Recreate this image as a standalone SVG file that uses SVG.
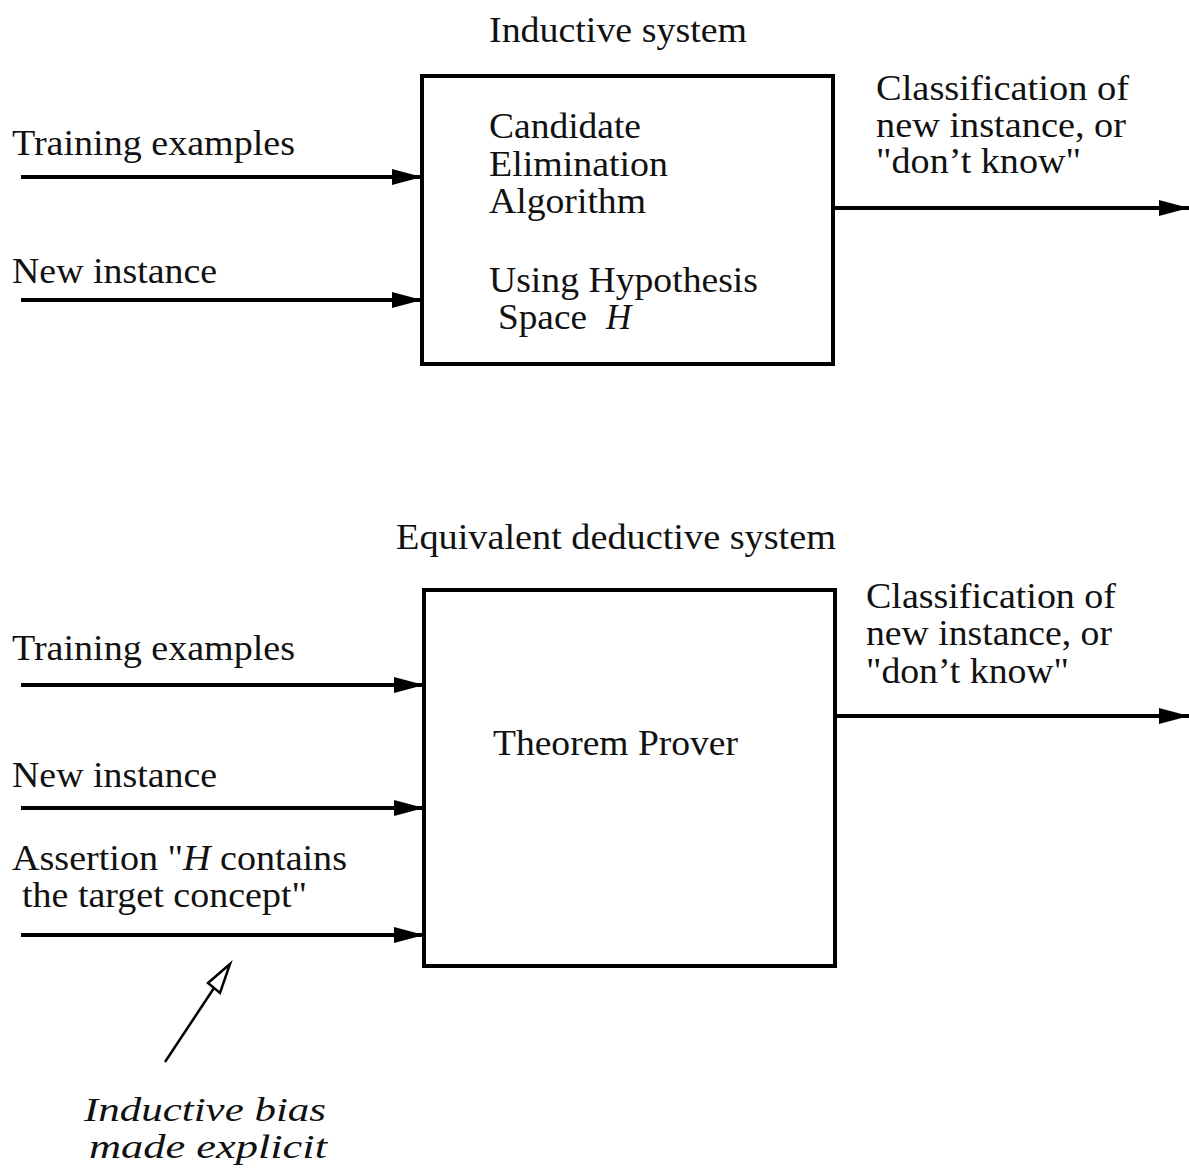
<svg xmlns="http://www.w3.org/2000/svg" width="1189" height="1174" viewBox="0 0 1189 1174">
<defs>
<style>
text{font-family:"Liberation Serif","Times New Roman",serif;font-size:35px;fill:#111}
.it{font-style:italic}
.big{font-size:34px}
.box{fill:#fff;stroke:#000;stroke-width:4}
.arr{stroke:#000;stroke-width:4;fill:none}
.thin{stroke:#000;stroke-width:2.5;fill:none}
</style>
<marker id="ah" viewBox="0 0 30 16" refX="30" refY="8" markerWidth="30" markerHeight="16" markerUnits="userSpaceOnUse" orient="auto">
<path d="M0,0 L30,8 L0,16 z" fill="#000"/>
</marker>
</defs>
<rect width="1189" height="1174" fill="#fff"/>

<g id="inductive-system">
<text x="489" y="42" textLength="258" lengthAdjust="spacingAndGlyphs">Inductive system</text>
<rect class="box" x="422" y="76" width="411" height="288"/>
<text x="489" y="138" textLength="152" lengthAdjust="spacingAndGlyphs">Candidate</text>
<text x="489" y="176" textLength="179" lengthAdjust="spacingAndGlyphs">Elimination</text>
<text x="489" y="213" textLength="157" lengthAdjust="spacingAndGlyphs">Algorithm</text>
<text x="489" y="292" textLength="269" lengthAdjust="spacingAndGlyphs">Using Hypothesis</text>
<text x="498" y="329" textLength="89" lengthAdjust="spacingAndGlyphs">Space</text>
<text x="606" y="329" class="it">H</text>
</g>

<g id="inductive-labels">
<text x="12" y="155" textLength="283" lengthAdjust="spacingAndGlyphs">Training examples</text>
<text x="12" y="283" textLength="205" lengthAdjust="spacingAndGlyphs">New instance</text>
<text x="876" y="100" textLength="253" lengthAdjust="spacingAndGlyphs">Classification of</text>
<text x="876" y="137" textLength="250" lengthAdjust="spacingAndGlyphs">new instance, or</text>
<text x="876" y="173" textLength="205" lengthAdjust="spacingAndGlyphs">"don’t know"</text>
</g>

<g id="deductive-system">
<text x="396" y="549" textLength="440" lengthAdjust="spacingAndGlyphs">Equivalent deductive system</text>
<rect class="box" x="424" y="590" width="411" height="376"/>
<text x="493" y="755" textLength="245" lengthAdjust="spacingAndGlyphs">Theorem Prover</text>
</g>

<g id="deductive-labels">
<text x="12" y="660" textLength="283" lengthAdjust="spacingAndGlyphs">Training examples</text>
<text x="12" y="787" textLength="205" lengthAdjust="spacingAndGlyphs">New instance</text>
<text x="12" y="870" textLength="335" lengthAdjust="spacingAndGlyphs">Assertion "<tspan class="it">H</tspan> contains</text>
<text x="22" y="907" textLength="285" lengthAdjust="spacingAndGlyphs">the target concept"</text>
<text x="866" y="608" textLength="250" lengthAdjust="spacingAndGlyphs">Classification of</text>
<text x="866" y="645" textLength="246" lengthAdjust="spacingAndGlyphs">new instance, or</text>
<text x="866" y="683" textLength="203" lengthAdjust="spacingAndGlyphs">"don’t know"</text>
</g>

<g id="bias-note">
<text x="84" y="1121" class="it big" textLength="242" lengthAdjust="spacingAndGlyphs">Inductive bias</text>
<text x="89" y="1158" class="it big" textLength="238" lengthAdjust="spacingAndGlyphs">made explicit</text>
</g>

<g id="connectors">
<line class="arr" x1="21" y1="177" x2="422" y2="177" marker-end="url(#ah)"/>
<line class="arr" x1="21" y1="300" x2="422" y2="300" marker-end="url(#ah)"/>
<line class="arr" x1="833" y1="208" x2="1189" y2="208" marker-end="url(#ah)"/>
<line class="arr" x1="21" y1="685" x2="424" y2="685" marker-end="url(#ah)"/>
<line class="arr" x1="21" y1="808" x2="424" y2="808" marker-end="url(#ah)"/>
<line class="arr" x1="21" y1="935" x2="424" y2="935" marker-end="url(#ah)"/>
<line class="arr" x1="835" y1="716" x2="1189" y2="716" marker-end="url(#ah)"/>
<line class="thin" x1="165" y1="1062" x2="214" y2="988"/>
<polygon class="thin" points="230,964 208,983 220,993" fill="#fff"/>
</g>
</svg>
